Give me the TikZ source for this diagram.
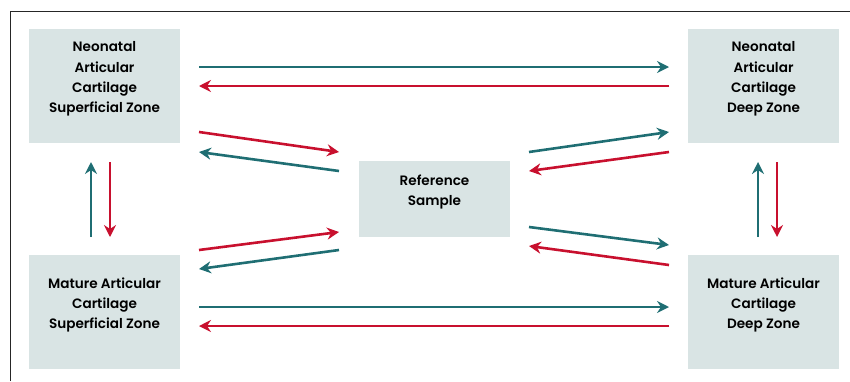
\documentclass[tikz,border=0pt]{standalone}
\usepackage{fontspec}
\setmainfont{Poppins}[UprightFont=* SemiBold]
\usetikzlibrary{arrows.meta}
\definecolor{teal1}{HTML}{1F6E73}
\definecolor{red1}{HTML}{C8102E}
\definecolor{boxfill}{HTML}{D9E4E4}
\begin{document}
\begin{tikzpicture}[x=1pt,y=-1pt,
  boxst/.style={fill=boxfill,draw=none,minimum width=151pt,inner sep=0pt},
  lbl/.style={align=center,font=\fontsize{13.6}{20.3}\selectfont,inner sep=0pt},
  arr/.style={line width=2.6pt,-{Stealth[length=12pt,width=12pt,inset=4pt]}},
  tarr/.style={arr,draw=teal1,fill=teal1},
  rarr/.style={arr,draw=red1,fill=red1}]
\useasboundingbox (0,0) rectangle (850,381);
\draw[line width=1pt,black!85] (10,381) -- (10,11) -- (850,11);
% boxes
\node[boxst,minimum height=114pt] (ns) at (104.5,86) {};
\node[boxst,minimum height=114pt] (nd) at (763.5,86) {};
\node[boxst,minimum height=114pt] (ms) at (104.5,312) {};
\node[boxst,minimum height=114pt] (md) at (763.5,312) {};
\node[boxst,minimum height=76pt] (ref) at (434.5,199) {};
\node[lbl] (nst) at (104.5,79) {Neonatal\\Articular\\Cartilage\\Superficial Zone};
\node[lbl] (ndt) at (763.5,79) {Neonatal\\Articular\\Cartilage\\Deep Zone};
\node[lbl] (mst) at (104.5,305) {Mature Articular\\Cartilage\\Superficial Zone};
\node[lbl] (mdt) at (763.5,305) {Mature Articular\\Cartilage\\Deep Zone};
\node[lbl] (reft) at (434.5,192) {Reference\\Sample};
% connector end points
\coordinate (a1) at (199,67);  \coordinate (a2) at (669,67);
\coordinate (b1) at (669,86);  \coordinate (b2) at (199,86);
\coordinate (c1) at (199,307); \coordinate (c2) at (669,307);
\coordinate (d1) at (669,326); \coordinate (d2) at (199,326);
\coordinate (e1) at (91,237);  \coordinate (e2) at (91,162);
\coordinate (f1) at (110,162); \coordinate (f2) at (110,237);
\coordinate (g1) at (758,237); \coordinate (g2) at (758,162);
\coordinate (h1) at (777,162); \coordinate (h2) at (777,237);
\coordinate (i1) at (199,132); \coordinate (i2) at (339,152);
\coordinate (j1) at (339,171); \coordinate (j2) at (199,152);
\coordinate (k1) at (199,250); \coordinate (k2) at (339,232);
\coordinate (l1) at (339,250); \coordinate (l2) at (199,269);
\coordinate (m1) at (529,152); \coordinate (m2) at (669,132);
\coordinate (n1) at (669,152); \coordinate (n2) at (529,171);
\coordinate (o1) at (529,227); \coordinate (o2) at (669,245);
\coordinate (p1) at (669,265); \coordinate (p2) at (529,246);
\draw[tarr] (a1) -- (a2);
\draw[rarr] (b1) -- (b2);
\draw[tarr] (c1) -- (c2);
\draw[rarr] (d1) -- (d2);
\draw[tarr] (e1) -- (e2);
\draw[rarr] (f1) -- (f2);
\draw[tarr] (g1) -- (g2);
\draw[rarr] (h1) -- (h2);
\draw[rarr] (i1) -- (i2);
\draw[tarr] (j1) -- (j2);
\draw[rarr] (k1) -- (k2);
\draw[tarr] (l1) -- (l2);
\draw[tarr] (m1) -- (m2);
\draw[rarr] (n1) -- (n2);
\draw[tarr] (o1) -- (o2);
\draw[rarr] (p1) -- (p2);
\end{tikzpicture}
\end{document}
